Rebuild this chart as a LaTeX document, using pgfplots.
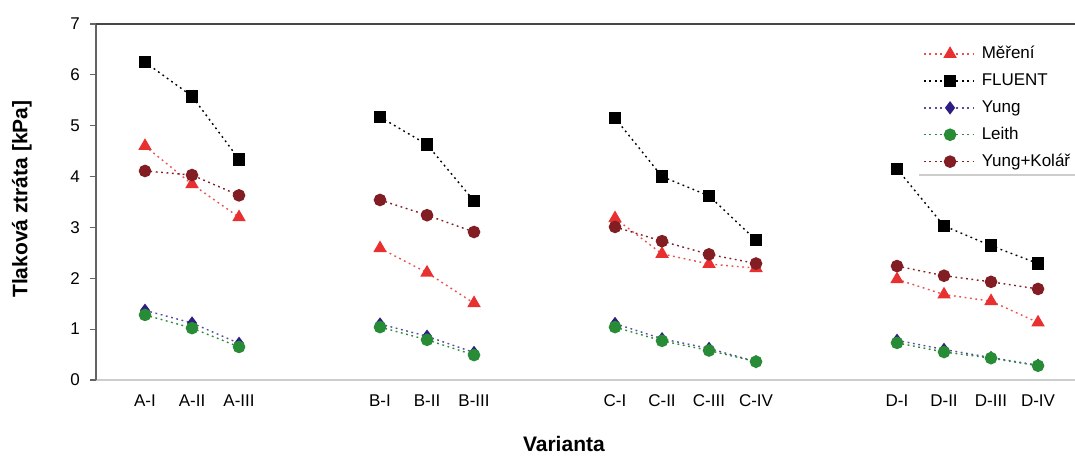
\documentclass[border=0pt]{standalone}
\usepackage{pgfplots}
\pgfplotsset{compat=1.18}
\usepackage{fontspec}
\setmainfont{Liberation Sans}

\definecolor{mereni}{RGB}{232,48,48}
\definecolor{yung}{RGB}{46,30,130}
\definecolor{leith}{RGB}{40,140,55}
\definecolor{kolar}{RGB}{130,30,35}
\definecolor{axgray}{RGB}{100,100,100}
\definecolor{botgray}{RGB}{205,205,205}

\begin{document}
\begin{tikzpicture}
\begin{axis}[
	name=main,
	scale only axis,
	width=489.5pt, height=178pt,
	xmin=-1.043, xmax=19.787,
	ymin=0, ymax=7,
	axis x line*=bottom, axis y line*=left,
	x axis line style={draw=botgray, line width=1pt},
	y axis line style={draw=axgray, line width=0.8pt},
	ytick={0,1,2,3,4,5,6,7},
	tick align=outside,
	major tick length=3pt,
	ytick style={draw=axgray, line width=0.6pt},
	xtick={0,1,2,5,6,7,10,11,12,13,16,17,18,19},
	xticklabels={A-I,A-II,A-III,B-I,B-II,B-III,C-I,C-II,C-III,C-IV,D-I,D-II,D-III,D-IV},
	xtick style={draw=none},
	tick label style={font=\fontsize{8.5}{10}\selectfont},
	/pgf/number format/assume math mode=true,
	yticklabel style={xshift=-1.5pt},
	xticklabel style={yshift=-1pt},
	xlabel={\textbf{Varianta}},
	xlabel style={at={(axis description cs:0.478,-0.181)}, anchor=center, font=\fontsize{10.5}{12}\selectfont},
	ylabel={\textbf{Tlaková ztráta [kPa]}},
	ylabel style={at={(axis description cs:-0.0756,0.508)}, anchor=center, font=\fontsize{10.5}{12}\selectfont},
	unbounded coords=jump,
	legend style={at={(0.8447,0.944)}, anchor=north west, draw=none, fill=white,
		inner sep=0pt, row sep=3.75pt,
		font=\fontsize{8.5}{10}\selectfont,
		nodes={inner sep=1pt, text height=6.2pt, text depth=1.5pt},
		/tikz/every odd column/.style={column sep=1.5pt}},
	legend cell align=left,
	legend image code/.code={\draw[mark repeat=2, mark phase=2] plot coordinates {(1pt,0pt) (14pt,0pt) (27pt,0pt)};},
	every axis plot/.append style={line width=0.7pt, dash pattern=on 0.9pt off 1.8pt},
]
% top frame line
\draw[axgray!70!black, line width=0.8pt] (rel axis cs:0,1) -- (rel axis cs:1,1);

\addplot[color=mereni!85, mark=triangle*, mark size=3.2pt, mark options={solid, fill=mereni, draw=mereni}]
coordinates{
	(0,4.60) (1,3.85) (2,3.20) (3,nan)
	(5,2.59) (6,2.11) (7,1.51) (8,nan)
	(10,3.18) (11,2.48) (12,2.28) (13,2.20) (14,nan)
	(16,1.98) (17,1.68) (18,1.55) (19,1.13)
};
\addlegendentry{Měření}

\addplot[color=black, mark=square*, mark size=2.8pt, mark options={solid, fill=black}]
coordinates{
	(0,6.25) (1,5.58) (2,4.34) (3,nan)
	(5,5.17) (6,4.63) (7,3.52) (8,nan)
	(10,5.15) (11,4.00) (12,3.62) (13,2.75) (14,nan)
	(16,4.15) (17,3.03) (18,2.64) (19,2.29)
};
\addlegendentry{FLUENT}

\addplot[color=yung!80, mark=diamond*, mark size=2.8pt, mark options={solid, fill=yung, draw=yung}]
coordinates{
	(0,1.37) (1,1.12) (2,0.72) (3,nan)
	(5,1.10) (6,0.86) (7,0.54) (8,nan)
	(10,1.11) (11,0.81) (12,0.62) (13,0.36) (14,nan)
	(16,0.78) (17,0.60) (18,0.44) (19,0.29)
};
\addlegendentry{Yung}

\addplot[color=leith, mark=*, mark size=2.8pt, mark options={solid, fill=leith, draw=leith}]
coordinates{
	(0,1.28) (1,1.02) (2,0.65) (3,nan)
	(5,1.04) (6,0.79) (7,0.49) (8,nan)
	(10,1.04) (11,0.77) (12,0.58) (13,0.36) (14,nan)
	(16,0.73) (17,0.55) (18,0.43) (19,0.28)
};
\addlegendentry{Leith}

\addplot[color=kolar, mark=*, mark size=2.8pt, mark options={solid, fill=kolar, draw=kolar}]
coordinates{
	(0,4.11) (1,4.03) (2,3.63) (3,nan)
	(5,3.54) (6,3.24) (7,2.91) (8,nan)
	(10,3.01) (11,2.73) (12,2.47) (13,2.29) (14,nan)
	(16,2.24) (17,2.05) (18,1.93) (19,1.79)
};
\addlegendentry{Yung+Kolář}

% legend bottom rule
\draw[botgray, line width=0.8pt] (rel axis cs:0.8407,0.5758) -- (rel axis cs:1,0.5758);
\end{axis}
\pgfresetboundingbox
\path[use as bounding box] ([xshift=-48pt,yshift=-38pt]main.south west) rectangle ([yshift=12pt]main.north east);
\end{tikzpicture}
\end{document}
